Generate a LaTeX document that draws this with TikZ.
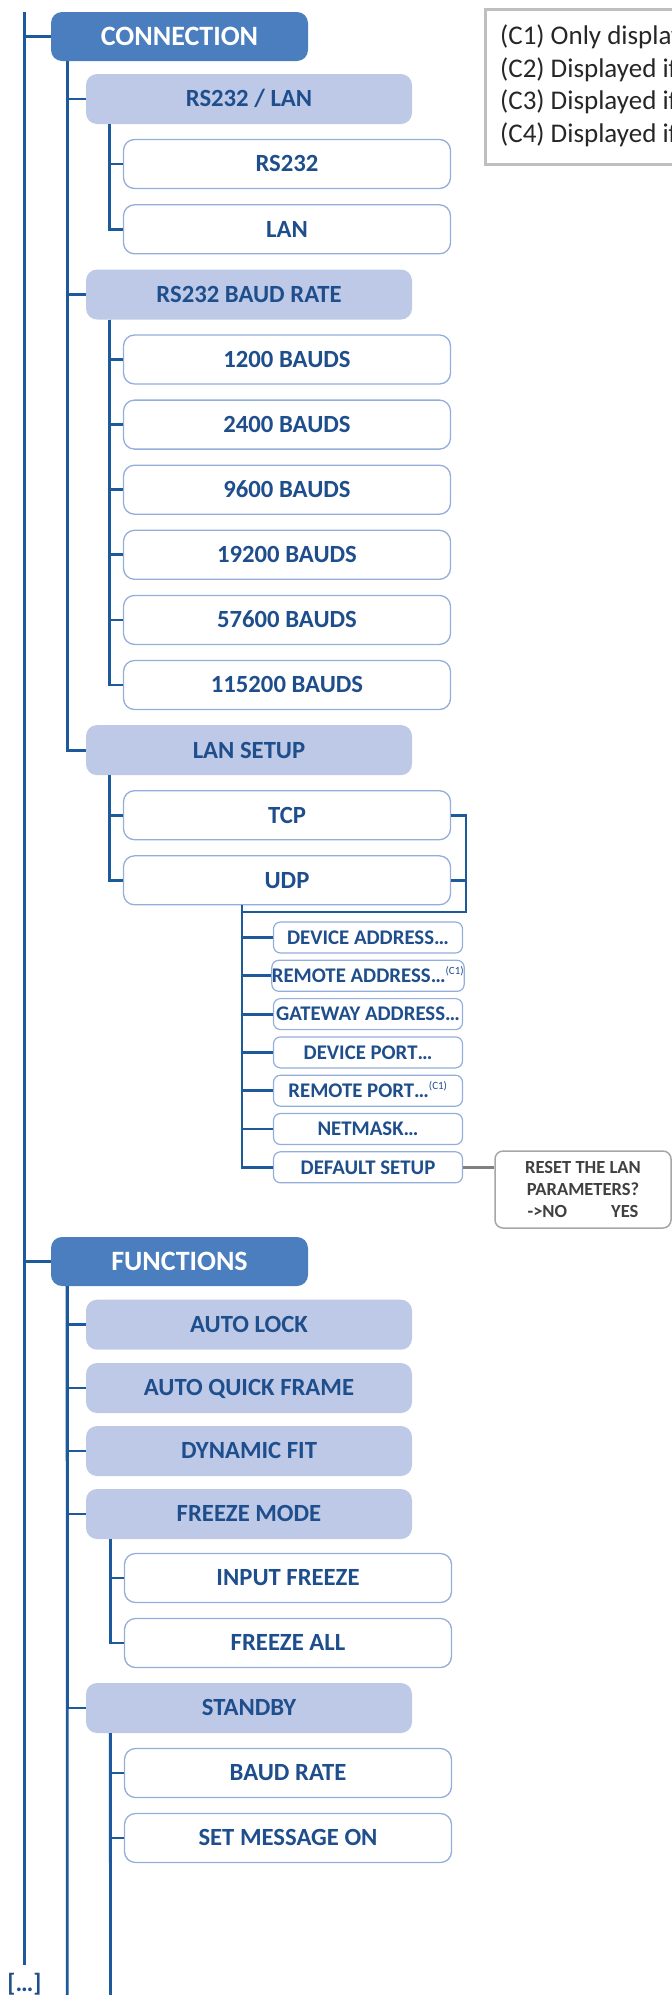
\documentclass[tikz,border=0pt]{standalone}
\usepackage{fontspec}
\setmainfont{Carlito}
\usepackage{xcolor}
\usepackage{tikz}
\usetikzlibrary{positioning, calc}

\definecolor{menublue}{HTML}{4A7EBF}
\definecolor{subblue}{HTML}{BDC9E6}
\definecolor{edgeblue}{HTML}{94AEDC}
\definecolor{textblue}{HTML}{1F4E8C}
\definecolor{lineblue}{HTML}{1C5A9C}
\definecolor{notegray}{HTML}{BFBFBF}
\definecolor{notetext}{HTML}{262626}
\definecolor{resetgray}{HTML}{A6A6A6}
\definecolor{resettext}{HTML}{404040}

\begin{document}
\begin{tikzpicture}[
    x=1pt, y=-1pt,
    menu/.style={rectangle, rounded corners=11pt, fill=menublue, minimum width=257pt, minimum height=49pt, inner sep=0pt, text=white, font=\fontsize{28}{32}\selectfont\bfseries, text height=18pt, text depth=0pt},
    sub/.style={rectangle, rounded corners=11pt, fill=subblue, minimum width=326pt, minimum height=50pt, inner sep=0pt, text=textblue, font=\fontsize{24.7}{29}\selectfont\bfseries, text height=15.9pt, text depth=0pt},
    item/.style={rectangle, draw=edgeblue, line width=1.3pt, rounded corners=11pt, fill=white, minimum width=327pt, minimum height=49pt, inner sep=0pt, text=textblue, font=\fontsize{24.7}{29}\selectfont\bfseries, text height=15.9pt, text depth=0pt},
    param/.style={rectangle, draw=edgeblue, line width=1.2pt, rounded corners=7pt, fill=white, minimum width=189pt, minimum height=31pt, inner sep=0pt, text=textblue, font=\fontsize{20.8}{24}\selectfont\bfseries, text height=13.4pt, text depth=0pt},
    confirm/.style={rectangle, draw=resetgray, line width=1.5pt, rounded corners=8pt, fill=white, minimum width=176pt, minimum height=77pt, inner sep=0pt, align=center, text=resettext, font=\fontsize{18.5}{22}\selectfont\bfseries},
    notebox/.style={rectangle, draw=notegray, line width=2.7pt, minimum width=230pt, minimum height=155pt, inner sep=0pt},
    note/.style={inner sep=0pt, text=notetext, font=\fontsize{27}{33}\selectfont},
    link/.style={draw=lineblue, line width=2.8pt},
    resetlink/.style={draw=gray, line width=3pt}
]

\useasboundingbox (0,0) rectangle (672,1995);
\clip (0,0) rectangle (672,1995);

\node[notebox, anchor=north west] (notes) at (484, 8) {};
\node[note, anchor=base west] (c1) at (500, 44.7) {(C1) Only display};
\node[note, anchor=base west] (c2) at (500, 77) {(C2) Displayed if};
\node[note, anchor=base west] (c3) at (500, 109.5) {(C3) Displayed if};
\node[note, anchor=base west] (c4) at (500, 142) {(C4) Displayed if};

\node[menu] (conn) at (179.5, 36.5) {CONNECTION};
\node[sub] (rslan) at (249, 99) {RS232 / LAN};
\node[item] (rs232) at (287, 164) {RS232};
\node[item] (lan) at (287, 229.3) {LAN};
\node[sub] (baud) at (249, 294.5) {RS232 BAUD RATE};
\node[item] (b1200) at (287, 359.5) {1200 BAUDS};
\node[item] (b2400) at (287, 424.6) {2400 BAUDS};
\node[item] (b9600) at (287, 489.7) {9600 BAUDS};
\node[item] (b19200) at (287, 554.8) {19200 BAUDS};
\node[item] (b57600) at (287, 619.9) {57600 BAUDS};
\node[item] (b115200) at (287, 685) {115200 BAUDS};
\node[sub] (lansetup) at (249, 750.1) {LAN SETUP};
\node[item] (tcp) at (287, 815.2) {TCP};
\node[item] (udp) at (287, 880.3) {UDP};

\node[param] (devaddr) at (368, 937.5) {DEVICE ADDRESS…};
\node[param] (remaddr) at (368, 975.8) {REMOTE ADDRESS…\textsuperscript{\fontsize{11}{11}\selectfont\mdseries (C1)}};
\node[param] (gateway) at (368, 1014.1) {GATEWAY ADDRESS…};
\node[param] (devport) at (368, 1052.4) {DEVICE PORT…};
\node[param] (remport) at (368, 1090.7) {REMOTE PORT…\textsuperscript{\fontsize{11}{11}\selectfont\mdseries (C1)}};
\node[param] (netmask) at (368, 1129) {NETMASK…};
\node[param] (defsetup) at (368, 1167.3) {DEFAULT SETUP};
\node[confirm] (reset) at (583, 1189.5) {RESET THE LAN\\PARAMETERS?\\->NO\hspace{44pt}YES};

\node[menu] (func) at (179.5, 1261.5) {FUNCTIONS};
\node[sub] (autolock) at (249, 1324.7) {AUTO LOCK};
\node[sub] (quick) at (249, 1388) {AUTO QUICK FRAME};
\node[sub] (dynfit) at (249, 1451) {DYNAMIC FIT};
\node[sub] (freeze) at (249, 1514) {FREEZE MODE};
\node[item] (infreeze) at (288, 1578) {INPUT FREEZE};
\node[item] (frzall) at (288, 1643) {FREEZE ALL};
\node[sub] (standby) at (249, 1708) {STANDBY};
\node[item] (baudrate) at (288, 1773) {BAUD RATE};
\node[item] (setmsg) at (288, 1838) {SET MESSAGE ON};

\node[text=textblue, inner sep=0pt, font=\fontsize{25}{28}\selectfont\bfseries] (more) at (24.4, 1984) {[…]};

\coordinate (rootTop) at (24.4, 12);
\coordinate (rootEnd) at (24.4, 1965);
\draw[link] (rootTop) -- (rootEnd);
\draw[link] (rootTop |- conn) -- (conn);
\draw[link] (rootTop |- func) -- (func);

\draw[link] ([xshift=16.3pt]conn.south west) |- (rslan);
\draw[link] ([xshift=16.3pt]conn.south west) |- (baud);
\draw[link] ([xshift=16.3pt]conn.south west) |- (lansetup);

\draw[link] ([xshift=23.5pt]rslan.south west) |- (rs232);
\draw[link] ([xshift=23.5pt]rslan.south west) |- (lan);

\draw[link] ([xshift=23.5pt]baud.south west) |- (b1200);
\draw[link] ([xshift=23.5pt]baud.south west) |- (b2400);
\draw[link] ([xshift=23.5pt]baud.south west) |- (b9600);
\draw[link] ([xshift=23.5pt]baud.south west) |- (b19200);
\draw[link] ([xshift=23.5pt]baud.south west) |- (b57600);
\draw[link] ([xshift=23.5pt]baud.south west) |- (b115200);

\draw[link] ([xshift=23.5pt]lansetup.south west) |- (tcp);
\draw[link] ([xshift=23.5pt]lansetup.south west) |- (udp);

\coordinate (brk) at (466, 912);
\coordinate (drop) at (242, 912);
\draw[link] (tcp) -| (brk) -- (drop);
\draw[link] (udp) -- (udp -| brk);
\draw[link] (udp.south -| drop) -- (drop) |- (devaddr);
\draw[link] (drop) |- (remaddr);
\draw[link] (drop) |- (gateway);
\draw[link] (drop) |- (devport);
\draw[link] (drop) |- (remport);
\draw[link] (drop) |- (netmask);
\draw[link] (drop) |- (defsetup);
\draw[resetlink] (defsetup.east) -- (defsetup.east -| reset.west);

\coordinate (funcEnd) at (67.3, 1995);
\draw[link] ([xshift=16.3pt]func.south west) -- (funcEnd);
\draw[link] ([xshift=16.3pt]func.south west) |- (autolock);
\draw[link] ([xshift=16.3pt]func.south west) |- (quick);
\draw[link] ([xshift=16.3pt]func.south west) |- (dynfit);
\draw[link] ([xshift=16.3pt]func.south west) |- (freeze);
\draw[link] ([xshift=16.3pt]func.south west) |- (standby);

\draw[link] ([xshift=24.5pt]freeze.south west) |- (infreeze);
\draw[link] ([xshift=24.5pt]freeze.south west) |- (frzall);

\coordinate (standbyEnd) at (110.5, 1995);
\draw[link] ([xshift=24.5pt]standby.south west) -- (standbyEnd);
\draw[link] ([xshift=24.5pt]standby.south west) |- (baudrate);
\draw[link] ([xshift=24.5pt]standby.south west) |- (setmsg);

\end{tikzpicture}
\end{document}
